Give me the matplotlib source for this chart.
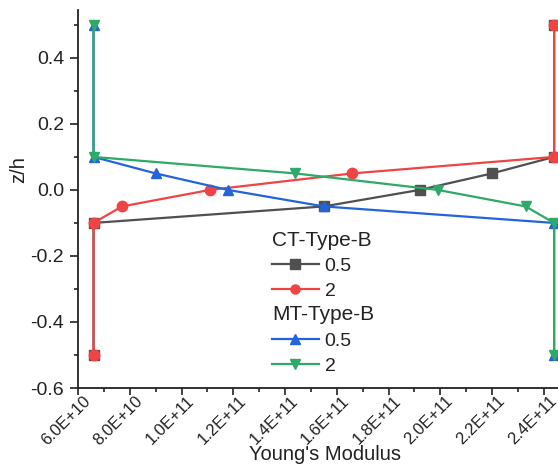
import matplotlib
matplotlib.use("Agg")
import matplotlib.pyplot as plt
from matplotlib.lines import Line2D
from matplotlib.ticker import MultipleLocator, FuncFormatter
import matplotlib.transforms as mtransforms

plt.rcParams['font.family'] = ['Liberation Sans', 'DejaVu Sans']

# Through-thickness profiles of Young's modulus
z_ct = [-0.5, -0.1, -0.05, 0.0, 0.05, 0.1, 0.5]
E_ct_05 = [6.6e10, 6.6e10, 1.55e11, 1.92e11, 2.2e11, 2.44e11, 2.44e11]
E_ct_2 = [6.6e10, 6.6e10, 7.7e10, 1.11e11, 1.66e11, 2.44e11, 2.44e11]

z_mt = [0.5, 0.1, 0.05, 0.0, -0.05, -0.1, -0.5]
E_mt_05 = [6.6e10, 6.6e10, 9.0e10, 1.18e11, 1.55e11, 2.44e11, 2.44e11]
E_mt_2 = [6.6e10, 6.6e10, 1.44e11, 1.99e11, 2.33e11, 2.44e11, 2.44e11]

x_ticks = [6.0e10, 8.0e10, 1.0e11, 1.2e11, 1.4e11, 1.6e11, 1.8e11, 2.0e11, 2.2e11, 2.4e11]
y_ticks = [-0.6, -0.4, -0.2, 0.0, 0.2, 0.4]

c_gray = '#505050'
c_red = '#f04444'
c_blue = '#2464d8'
c_green = '#2eaa68'
c_text = '#222222'

fig = plt.figure(figsize=(5.58, 4.67), dpi=100)
ax = fig.add_axes([78 / 558, 1 - 388 / 467, 1 - 78 / 558, (388 - 10) / 467])

lw = 1.6
ms = 7.5
ax.plot(E_ct_05, z_ct, color=c_gray, marker='s', lw=lw, ms=ms, clip_on=False, zorder=3)
ax.plot(E_ct_2, z_ct, color=c_red, marker='o', lw=lw, ms=ms, clip_on=False, zorder=4)
ax.plot(E_mt_05, z_mt, color=c_blue, marker='^', lw=lw, ms=ms, clip_on=False, zorder=5)
ax.plot(E_mt_2, z_mt, color=c_green, marker='v', lw=lw, ms=ms, clip_on=False, zorder=6)

ax.set_xlim(6.0e10, 2.455e11)
ax.set_ylim(-0.6, 0.545)

for s in ['top', 'right']:
    ax.spines[s].set_visible(False)
for s in ['left', 'bottom']:
    ax.spines[s].set_linewidth(1.3)
    ax.spines[s].set_color(c_text)

ax.set_xticks(x_ticks)
ax.xaxis.set_minor_locator(MultipleLocator(1.0e10))
ax.set_yticks(y_ticks)
ax.yaxis.set_minor_locator(MultipleLocator(0.1))


def sci_fmt(v, pos):
    s = '%.1E' % v
    mant, exp = s.split('E')
    return '%sE+%d' % (mant, int(exp))


ax.xaxis.set_major_formatter(FuncFormatter(sci_fmt))
ax.yaxis.set_major_formatter(FuncFormatter(lambda v, p: '%.1f' % v))

ax.tick_params(axis='both', which='major', direction='out', length=5, width=1.2,
               colors=c_text)
ax.tick_params(axis='both', which='minor', direction='out', length=3, width=1.2,
               colors=c_text)
ax.tick_params(axis='y', which='major', length=6, pad=4, labelsize=14)
ax.tick_params(axis='x', which='major', pad=0, labelsize=12)

offset = mtransforms.ScaledTranslation(5 / 100, 2 / 100, fig.dpi_scale_trans)
for lab in ax.get_xticklabels():
    lab.set_rotation(45)
    lab.set_ha('right')
    lab.set_va('top')
    lab.set_rotation_mode('anchor')
    lab.set_transform(lab.get_transform() + offset)

ax.set_xlabel("Young's Modulus", fontsize=14.5, color=c_text)
ax.set_ylabel('z/h', fontsize=14.5, color=c_text)
ax.xaxis.set_label_coords((325 - 78) / (558 - 78), -(445 - 388) / (388 - 10))
ax.yaxis.set_label_coords(-(78 - 28) / (558 - 78), (388 - 170) / (388 - 10))

# Grouped legend: a header row above each material type
blank = Line2D([], [], linestyle='none', marker=None)
handles = [
    blank,
    Line2D([], [], color=c_gray, marker='s', lw=lw, ms=6.5),
    Line2D([], [], color=c_red, marker='o', lw=lw, ms=6.5),
    blank,
    Line2D([], [], color=c_blue, marker='^', lw=lw, ms=6.5),
    Line2D([], [], color=c_green, marker='v', lw=lw, ms=6.5),
]
labels = ['', '0.5', '2', '', '0.5', '2']
leg = ax.legend(handles, labels, loc='upper left', frameon=False, fontsize=14,
                handlelength=2.4, handletextpad=0.3, labelspacing=0.38,
                borderpad=0, borderaxespad=0,
                bbox_to_anchor=((272 - 78) / (558 - 78), (388 - 232) / (388 - 10)))
for t in leg.get_texts():
    t.set_color(c_text)

fig.text(272 / 558, 1 - 240 / 467, 'CT-Type-B', fontsize=15, color=c_text,
         ha='left', va='center')
fig.text(272 / 558, 1 - 315 / 467, 'MT-Type-B', fontsize=15, color=c_text,
         ha='left', va='center')

fig.savefig('out.png', dpi=100)
